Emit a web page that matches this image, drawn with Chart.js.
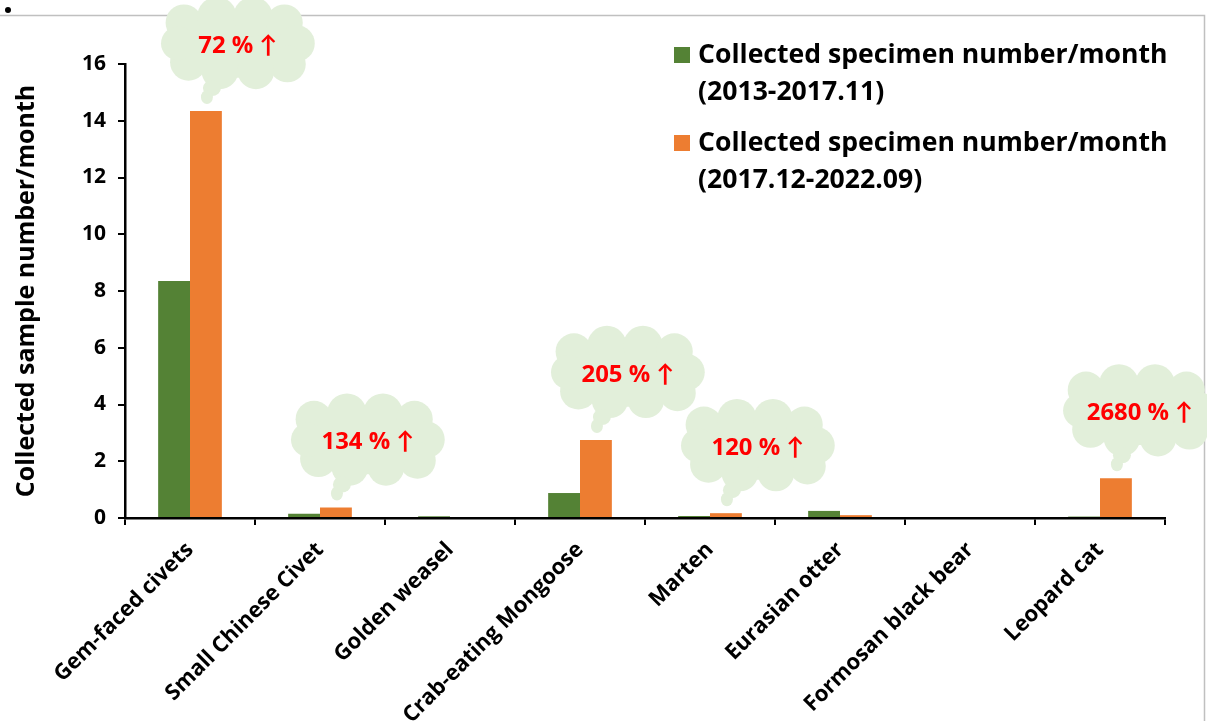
<!DOCTYPE html>
<html><head><meta charset="utf-8">
<script src="https://cdn.jsdelivr.net/npm/chart.js@4.4.1/dist/chart.umd.min.js"></script>
<style>html,body{margin:0;padding:0;background:#fff;overflow:hidden}canvas{display:block}</style>
</head><body><canvas id="c" width="1207" height="721"></canvas>
<script>
const categories = ["Gem-faced civets","Small Chinese Civet","Golden weasel","Crab-eating Mongoose","Marten","Eurasian otter","Formosan black bear","Leopard cat"];
const period1 = [8.35, 0.15, 0.06, 0.88, 0.07, 0.25, 0, 0.05];
const period2 = [14.34, 0.37, 0, 2.75, 0.17, 0.10, 0, 1.40];
const growthLabels = ["72 % \u2191", "134 % \u2191", "", "205 % \u2191", "120 % \u2191", "", "", "2680 % \u2191"];
const yTicks = [0, 2, 4, 6, 8, 10, 12, 14, 16];
const seriesLabels = [["Collected specimen number/month", "(2013-2017.11)"], ["Collected specimen number/month", "(2017.12-2022.09)"]];
const yTitle = "Collected sample number/month";

const GREEN = "#548235", ORANGE = "#ed7d31", CLOUD = "#e2efda";
const FONT = "'Open Sans', Lato, sans-serif";

// choose font sizes so text widths match the reference
const mctx = document.createElement('canvas').getContext('2d');
function fitSize(text, target) {
  mctx.font = "bold 100px " + FONT;
  return Math.round(100 * target / mctx.measureText(text).width * 10) / 10;
}
const legendSize = fitSize(seriesLabels[0][0], 470);
const titleSize = fitSize(yTitle, 412);
const xTickSize = fitSize("Crab-eating Mongoose", 245);
const yTickSize = fitSize("16", 24);
const cloudSize = fitSize("134 % \u2191", 93);

function cloudPath(ctx, cx, cy, w, h) {
  const bumps = [
    [-0.36, -0.26, 0.26], [-0.14, -0.33, 0.28], [0.10, -0.33, 0.28], [0.31, -0.26, 0.26],
    [0.39, -0.02, 0.26], [0.33, 0.22, 0.26], [0.12, 0.30, 0.26], [-0.12, 0.30, 0.26],
    [-0.33, 0.20, 0.26], [-0.40, -0.02, 0.24]
  ];
  ctx.beginPath();
  ctx.ellipse(cx, cy, w * 0.42, h * 0.38, 0, 0, Math.PI * 2);
  ctx.fill();
  for (const [bx, by, br] of bumps) {
    ctx.beginPath();
    ctx.arc(cx + bx * w, cy + by * h, br * h * 0.82, 0, Math.PI * 2);
    ctx.fill();
  }
}

const cloudPlugin = {
  id: 'clouds',
  afterDatasetsDraw(chart) {
    const ctx = chart.ctx;
    const meta = chart.getDatasetMeta(1);
    ctx.save();
    growthLabels.forEach((lab, i) => {
      if (!lab) return;
      const bar = meta.data[i];
      const bx = bar.x, by = bar.y;
      const w = 150, h = 86;
      const cx = Math.min(bx + 32, chart.width - 67);
      const cy = by - 66;
      ctx.fillStyle = CLOUD;
      cloudPath(ctx, cx, cy, w, h);
      ctx.beginPath();
      ctx.ellipse(bx + 6, cy + h / 2, 9, 8, 0, 0, Math.PI * 2);
      ctx.fill();
      ctx.beginPath();
      ctx.ellipse(bx + 1, by - 14, 6, 7, 0, 0, Math.PI * 2);
      ctx.fill();
      ctx.fillStyle = "#ff0000";
      ctx.font = "bold " + cloudSize + "px " + FONT;
      ctx.textAlign = "center";
      ctx.textBaseline = "middle";
      ctx.fillText(lab, cx, cy + 1);
    });
    ctx.restore();
  }
};

const decorPlugin = {
  id: 'decor',
  beforeDraw(chart) {
    const ctx = chart.ctx;
    ctx.save();
    ctx.fillStyle = "#fff";
    ctx.fillRect(0, 0, chart.width, chart.height);
    ctx.strokeStyle = "#c0c0c0";
    ctx.lineWidth = 1.5;
    ctx.beginPath();
    ctx.moveTo(0, 15.5); ctx.lineTo(1204.5, 15.5); ctx.lineTo(1204.5, 721);
    ctx.stroke();
    ctx.fillStyle = "#000";
    ctx.beginPath(); ctx.arc(8, 10, 3, 0, Math.PI * 2); ctx.fill();
    ctx.restore();
  },
  afterDraw(chart) {
    const ctx = chart.ctx;
    ctx.save();
    const colors = [GREEN, ORANGE];
    ctx.font = "bold " + legendSize + "px " + FONT;
    ctx.textAlign = "left";
    ctx.textBaseline = "middle";
    seriesLabels.forEach((lines, k) => {
      const y0 = 55 + k * 88;
      ctx.fillStyle = colors[k];
      ctx.fillRect(674, y0 - 8, 16, 16);
      ctx.fillStyle = "#000";
      lines.forEach((t, j) => ctx.fillText(t, 698, y0 + j * 37));
    });
    ctx.restore();
  }
};

new Chart(document.getElementById('c'), {
  type: 'bar',
  data: {
    labels: categories,
    datasets: [
      { label: seriesLabels[0].join(' '), data: period1, backgroundColor: GREEN },
      { label: seriesLabels[1].join(' '), data: period2, backgroundColor: ORANGE }
    ]
  },
  options: {
    responsive: false,
    animation: false,
    devicePixelRatio: 1,
    layout: { padding: { left: 12, top: 64, right: 42, bottom: 0 } },
    plugins: { legend: { display: false }, tooltip: { enabled: false } },
    datasets: { bar: { categoryPercentage: 0.49, barPercentage: 1.0 } },
    scales: {
      x: {
        grid: { display: true, drawOnChartArea: false, drawTicks: true, tickLength: 7, color: "#000", lineWidth: 2, offset: true },
        border: { display: true, color: "#000", width: 2.5 },
        ticks: { color: "#000", font: { family: FONT, weight: "bold", size: xTickSize }, minRotation: 45, maxRotation: 45, padding: 12, autoSkip: false },
        afterFit(s) { s.height = 203; }
      },
      y: {
        min: 0, max: 16,
        afterBuildTicks(s) { s.ticks = yTicks.map(v => ({ value: v })); },
        grid: { display: true, drawOnChartArea: false, drawTicks: true, tickLength: 7, color: "#000", lineWidth: 2 },
        border: { display: true, color: "#000", width: 2.5 },
        ticks: { color: "#000", font: { family: FONT, weight: "bold", size: yTickSize }, padding: 12 },
        title: { display: true, text: yTitle, color: "#000", font: { family: FONT, weight: "bold", size: titleSize }, padding: { top: 0, bottom: 0 } },
        afterFit(s) { s.width = 113; }
      }
    }
  },
  plugins: [decorPlugin, cloudPlugin]
});
</script></body></html>
